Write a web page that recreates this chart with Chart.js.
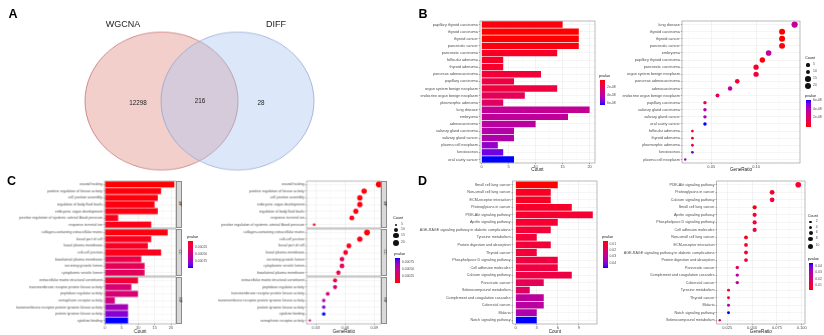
<!DOCTYPE html>
<html>
<head>
<meta charset="utf-8">
<script src="https://cdn.jsdelivr.net/npm/chart.js@4.4.1/dist/chart.umd.min.js"></script>
<style>
  body { margin: 0; width: 824px; height: 335px; background: #fff; position: relative; overflow: hidden;
         font-family: "Liberation Sans", Arial, sans-serif; }
  canvas { position: absolute; }
  .txt { position: absolute; white-space: nowrap; line-height: 1; transform: translate(-50%, -50%); color: #1a1a1a; }
  .ltxt { position: absolute; white-space: nowrap; line-height: 1; transform: translateY(-50%); color: #4D4D4D; }
  .panel { font-weight: bold; font-size: 12.5px; color: #000; }
</style>
</head>
<body>
<script>
// ---------- data ----------
const vennSets = ["WGCNA", "DIFF"];
const vennCounts = [12298, 216, 28]; // WGCNA only, both, DIFF only

// B: disease enrichment
const bCats = ["papillary thyroid carcinoma", "thyroid carcinoma", "thyroid cancer", "pancreatic cancer",
  "pancreatic carcinoma", "follicular adenoma", "thyroid adenoma", "pancreas adenocarcinoma",
  "papillary carcinoma", "organ system benign neoplasm", "endocrine organ benign neoplasm",
  "pleomorphic adenoma", "lung disease", "embryoma", "adenocarcinoma", "salivary gland carcinoma",
  "salivary gland cancer", "plasma cell neoplasm", "keratoconus", "oral cavity cancer"];
const bCount = [15, 18, 18, 18, 14, 4, 4, 11, 6, 14, 8, 4, 20, 16, 10, 6, 6, 3, 4, 6];
const bPvalue = [1.24e-9, 5e-11, 5e-11, 1.86e-9, 4.96e-9, 6.2e-9, 6.2e-9, 9.3e-9, 1.24e-8, 1.12e-8,
  1.74e-8, 2.05e-8, 3.41e-8, 3.53e-8, 3.72e-8, 3.91e-8, 4.03e-8, 4.84e-8, 5.46e-8, 6.2e-8];
const bDotCats = ["lung disease", "thyroid carcinoma", "thyroid cancer", "pancreatic cancer", "embryoma",
  "papillary thyroid carcinoma", "pancreatic carcinoma", "organ system benign neoplasm",
  "pancreas adenocarcinoma", "adenocarcinoma", "endocrine organ benign neoplasm", "papillary carcinoma",
  "salivary gland carcinoma", "salivary gland cancer", "oral cavity cancer", "follicular adenoma",
  "thyroid adenoma", "pleomorphic adenoma", "keratoconus", "plasma cell neoplasm"];
const bDotRatio = [0.143, 0.129, 0.129, 0.129, 0.114, 0.107, 0.100, 0.100, 0.079, 0.071, 0.057,
  0.043, 0.043, 0.043, 0.043, 0.029, 0.029, 0.029, 0.029, 0.021];
const bPRange = [0, 6.2e-8];
const bPTicks = [2e-8, 4e-8, 6e-8];
const bPLabels = ["2e-08", "4e-08", "6e-08"];
const bCountLegend = [5, 10, 15, 20];

// C: GO enrichment
const goGroups = ["BP", "CC", "MF"];
const cBPCats = ["wound healing", "positive regulation of kinase activity", "cell junction assembly",
  "regulation of body fluid levels", "embryonic organ development",
  "positive regulation of systemic arterial blood pressure", "response to metal ion"];
const cBPCount = [21, 17, 16, 15, 16, 4, 14];
const cBPPvalue = [0.00002, 0.000038, 0.000038, 0.000048, 0.000048, 0.000066, 0.000066];
const cCCCats = ["collagen-containing extracellular matrix", "basal part of cell", "basal plasma membrane",
  "cell-cell junction", "basolateral plasma membrane", "secretory granule lumen", "cytoplasmic vesicle lumen"];
const cCCCount = [19, 14, 13, 17, 11, 12, 12];
const cCCPvalue = [0.000038, 0.000075, 0.000094, 0.000066, 0.000222, 0.000278, 0.000296];
const cMFCats = ["extracellular matrix structural constituent", "transmembrane receptor protein kinase activity",
  "peptidase regulator activity", "semaphorin receptor activity",
  "transmembrane receptor protein tyrosine kinase activity", "protein tyrosine kinase activity", "cytokine binding"];
const cMFCount = [10, 8, 10, 3, 7, 7, 7];
const cMFPvalue = [0.000158, 0.000388, 0.000388, 0.000434, 0.000664, 0.000774, 0.00094];

const cBPDotCats = ["wound healing", "positive regulation of kinase activity", "cell junction assembly",
  "embryonic organ development", "regulation of body fluid levels", "response to metal ion",
  "positive regulation of systemic arterial blood pressure"];
const cBPDotRatio = [0.0947, 0.0795, 0.0751, 0.0751, 0.0710, 0.0669, 0.0283];
const cCCDotCats = ["collagen-containing extracellular matrix", "cell-cell junction", "basal part of cell",
  "basal plasma membrane", "secretory granule lumen", "cytoplasmic vesicle lumen", "basolateral plasma membrane"];
const cCCDotRatio = [0.0825, 0.0751, 0.0639, 0.0605, 0.0568, 0.0568, 0.0531];
const cMFDotCats = ["extracellular matrix structural constituent", "peptidase regulator activity",
  "transmembrane receptor protein kinase activity", "transmembrane receptor protein tyrosine kinase activity",
  "protein tyrosine kinase activity", "cytokine binding", "semaphorin receptor activity"];
const cMFDotRatio = [0.0497, 0.0497, 0.0422, 0.0381, 0.0381, 0.0381, 0.0239];
const cPRange = [0.00002, 0.00094];
const cPTicks = [0.00025, 0.0005, 0.00075];
const cPLabels = ["0.00025", "0.00050", "0.00075"];
const cCountLegend = [5, 10, 15, 20];

// D: KEGG enrichment
const dCats = ["Small cell lung cancer", "Non-small cell lung cancer", "ECM-receptor interaction",
  "Proteoglycans in cancer", "PI3K-Akt signaling pathway", "Apelin signaling pathway",
  "AGE-RAGE signaling pathway in diabetic complications", "Tyrosine metabolism",
  "Protein digestion and absorption", "Thyroid cancer", "Phospholipase D signaling pathway",
  "Cell adhesion molecules", "Calcium signaling pathway", "Pancreatic cancer", "Selenocompound metabolism",
  "Complement and coagulation cascades", "Colorectal cancer", "Malaria", "Notch signaling pathway"];
const dCount = [6, 5, 5, 8, 11, 6, 5, 3, 5, 3, 6, 6, 8, 4, 2, 4, 4, 3, 3];
const dPvalue = [0.00355, 0.00703, 0.00703, 0.0079, 0.00876, 0.00876, 0.01007, 0.01007, 0.01007, 0.01007,
  0.01137, 0.01137, 0.01224, 0.01572, 0.01745, 0.02875, 0.02962, 0.03179, 0.047];
const dDotCats = ["PI3K-Akt signaling pathway", "Proteoglycans in cancer", "Calcium signaling pathway",
  "Small cell lung cancer", "Apelin signaling pathway", "Phospholipase D signaling pathway",
  "Cell adhesion molecules", "Non-small cell lung cancer", "ECM-receptor interaction",
  "AGE-RAGE signaling pathway in diabetic complications", "Protein digestion and absorption",
  "Pancreatic cancer", "Complement and coagulation cascades", "Colorectal cancer", "Tyrosine metabolism",
  "Thyroid cancer", "Malaria", "Notch signaling pathway", "Selenocompound metabolism"];
const dDotRatio = [0.0965, 0.0702, 0.0702, 0.0526, 0.0526, 0.0526, 0.0526, 0.0439, 0.0439, 0.0439, 0.0439,
  0.0351, 0.0351, 0.0351, 0.0263, 0.0263, 0.0263, 0.0263, 0.0175];
const dPRange = [0.00355, 0.047];
const dPTicks = [0.01, 0.02, 0.03, 0.04];
const dPLabels = ["0.01", "0.02", "0.03", "0.04"];
const dCountLegend = [2, 4, 6, 8, 10];

// ---------- helpers ----------
const FONT = "'Liberation Sans', Arial, sans-serif";
Chart.defaults.font.family = FONT;
Chart.defaults.color = "#4D4D4D";

// red -> blue in Lab space, like ggplot's gradient
function srgbToLin(c) { c /= 255; return c <= 0.04045 ? c / 12.92 : Math.pow((c + 0.055) / 1.055, 2.4); }
function linToSrgb(c) {
  const v = c <= 0.0031308 ? 12.92 * c : 1.055 * Math.pow(Math.max(c, 0), 1 / 2.4) - 0.055;
  return Math.round(Math.max(0, Math.min(1, v)) * 255);
}
function toLab(rgb) {
  const [R, G, B] = rgb.map(srgbToLin);
  const X = (0.4124 * R + 0.3576 * G + 0.1805 * B) / 0.95047;
  const Y = 0.2126 * R + 0.7152 * G + 0.0722 * B;
  const Z = (0.0193 * R + 0.1192 * G + 0.9505 * B) / 1.08883;
  const f = t => t > 0.008856 ? Math.cbrt(t) : 7.787 * t + 16 / 116;
  return [116 * f(Y) - 16, 500 * (f(X) - f(Y)), 200 * (f(Y) - f(Z))];
}
function fromLab([L, a, b]) {
  const fy = (L + 16) / 116, fx = fy + a / 500, fz = fy - b / 200;
  const inv = t => t * t * t > 0.008856 ? t * t * t : (t - 16 / 116) / 7.787;
  const X = inv(fx) * 0.95047, Y = inv(fy), Z = inv(fz) * 1.08883;
  return [3.2406 * X - 1.5372 * Y - 0.4986 * Z, -0.9689 * X + 1.8758 * Y + 0.0415 * Z,
    0.0557 * X - 0.2040 * Y + 1.0570 * Z].map(linToSrgb);
}
const LAB_LO = toLab([255, 0, 0]);
const LAB_HI = toLab([0, 0, 255]);
function pColor(p, lo, hi) {
  const t = Math.max(0, Math.min(1, (p - lo) / (hi - lo)));
  const [r, g, b] = fromLab(LAB_LO.map((v, i) => v + (LAB_HI[i] - v) * t));
  return `rgb(${r},${g},${b})`;
}

function addCanvas(left, top, w, h, parent) {
  const c = document.createElement("canvas");
  c.width = w; c.height = h;
  c.style.left = left + "px"; c.style.top = top + "px";
  c.style.width = w + "px"; c.style.height = h + "px";
  (parent || document.body).appendChild(c);
  return c;
}

function addText(text, x, y, css, cls) {
  const d = document.createElement("div");
  d.className = cls || "txt";
  d.textContent = text;
  d.style.left = x + "px"; d.style.top = y + "px";
  Object.assign(d.style, css || {});
  document.body.appendChild(d);
  return d;
}

// full box round the plotting panel
const panelBorder = {
  id: "panelBorder",
  afterDraw(chart) {
    const a = chart.chartArea, ctx = chart.ctx;
    ctx.save();
    ctx.strokeStyle = "#8C8C8C";
    ctx.lineWidth = 0.6;
    ctx.strokeRect(a.left, a.top, a.right - a.left, a.bottom - a.top);
    ctx.restore();
  }
};

function makeChart(type, s, labels, dataset) {
  const pad = 5, padR = 8, xh = s.xh || 0;
  const canvas = addCanvas(s.plotL - s.yw, s.plotT - pad, s.yw + s.plotW + padR, pad + s.plotH + (xh || pad));
  const isMajor = v => s.major.some(m => Math.abs(m - v) < 1e-9);
  const allTicks = s.major.concat(s.minor).filter(v => v >= s.xMin && v <= s.xMax).sort((a, b) => a - b);
  return new Chart(canvas, {
    type: type,
    data: { labels: labels, datasets: [dataset] },
    plugins: [panelBorder],
    options: {
      responsive: false,
      animation: false,
      indexAxis: type === "bar" ? "y" : "x",
      layout: { autoPadding: false, padding: { top: pad, right: padR, bottom: xh ? 0 : pad, left: 0 } },
      plugins: { legend: { display: false }, tooltip: { enabled: false } },
      scales: {
        y: {
          type: "category",
          labels: labels,
          offset: true,
          grid: { color: "#EBEBEB", lineWidth: 0.5, offset: false, tickLength: 1.2, tickColor: "#555" },
          border: { display: false },
          ticks: { autoSkip: false, font: { size: s.fontY }, padding: 1, color: "#4D4D4D" },
          afterFit: sc => { sc.width = s.yw; }
        },
        x: {
          type: "linear",
          min: s.xMin,
          max: s.xMax,
          afterBuildTicks: sc => { sc.ticks = allTicks.map(v => ({ value: v })); },
          grid: {
            color: c => (c.tick && isMajor(c.tick.value)) ? "#E6E6E6" : "#F3F3F3",
            lineWidth: c => (c.tick && isMajor(c.tick.value)) ? 0.5 : 0.3,
            drawTicks: !!xh,
            tickLength: 1.2,
            tickColor: c => (c.tick && isMajor(c.tick.value)) ? "#555" : "rgba(0,0,0,0)"
          },
          border: { display: false },
          ticks: {
            display: !!xh, autoSkip: false, maxRotation: 0, font: { size: 4 }, padding: 0.5,
            color: "#4D4D4D", callback: v => isMajor(v) ? s.fmt(v) : ""
          },
          title: { display: !!xh, text: s.xTitle, font: { size: 4.6 }, padding: 0, color: "#1a1a1a" },
          afterFit: sc => { sc.height = xh; }
        }
      }
    }
  });
}

function barSet(counts, pvals, range) {
  return {
    data: counts,
    backgroundColor: pvals.map(p => pColor(p, range[0], range[1])),
    borderWidth: 0,
    barPercentage: 0.9,
    categoryPercentage: 1
  };
}

function dotSet(cats, ratio, srcCats, srcCount, srcP, range, k) {
  return {
    data: cats.map((c, i) => ({ x: ratio[i], y: c })),
    pointRadius: cats.map(c => k * Math.sqrt(srcCount[srcCats.indexOf(c)])),
    pointHoverRadius: cats.map(c => k * Math.sqrt(srcCount[srcCats.indexOf(c)])),
    pointBackgroundColor: cats.map(c => pColor(srcP[srcCats.indexOf(c)], range[0], range[1])),
    pointBorderWidth: 0,
    showLine: false,
    clip: 4
  };
}

function gradientLegend(x, y, w, h, range, ticks, labels, blueTop) {
  const stops = [];
  for (let i = 0; i <= 10; i++) {
    const t = i / 10;
    const p = range[0] + (blueTop ? 1 - t : t) * (range[1] - range[0]);
    stops.push(pColor(p, range[0], range[1]) + " " + (t * 100) + "%");
  }
  const bar = document.createElement("div");
  Object.assign(bar.style, { position: "absolute", left: x + "px", top: y + "px", width: w + "px",
    height: h + "px", background: "linear-gradient(to bottom, " + stops.join(",") + ")" });
  document.body.appendChild(bar);
  addText("pvalue", x - 1, y - 3, { fontSize: "3.8px", color: "#1a1a1a" }, "ltxt");
  ticks.forEach((v, i) => {
    const f = (v - range[0]) / (range[1] - range[0]);
    const yy = y + (blueTop ? 1 - f : f) * h;
    addText(labels[i], x + w + 2, yy, { fontSize: "3.4px" }, "ltxt");
  });
}

function sizeLegend(x, ys, values, k, titleY) {
  addText("Count", x - 3, titleY, { fontSize: "3.8px", color: "#1a1a1a" }, "ltxt");
  values.forEach((v, i) => {
    const r = k * Math.sqrt(v);
    const d = document.createElement("div");
    Object.assign(d.style, { position: "absolute", left: (x - r) + "px", top: (ys[i] - r) + "px",
      width: 2 * r + "px", height: 2 * r + "px", borderRadius: "50%", background: "#111" });
    document.body.appendChild(d);
    addText(String(v), x + 5, ys[i], { fontSize: "3.4px" }, "ltxt");
  });
}

function strip(x, y, w, h, text) {
  const d = document.createElement("div");
  Object.assign(d.style, { position: "absolute", left: x + "px", top: y + "px", width: w + "px",
    height: h + "px", background: "#D9D9D9", border: "0.6px solid #8C8C8C", boxSizing: "border-box" });
  document.body.appendChild(d);
  addText(text, x + w / 2, y + h / 2, { fontSize: "3.6px", color: "#1a1a1a",
    transform: "translate(-50%,-50%) rotate(90deg)" });
}

// ---------- A: Venn ----------
const vennWrap = document.createElement("div");
Object.assign(vennWrap.style, { position: "absolute", left: "0px", top: "0px", width: "412px", height: "224px",
  transform: "scaleY(0.902)", transformOrigin: "0 0" });
document.body.appendChild(vennWrap);
const vennCanvas = addCanvas(0, 0, 412, 224, vennWrap);
new Chart(vennCanvas, {
  type: "bubble",
  data: {
    datasets: [
      { label: vennSets[0], data: [{ x: 0, y: 0 }], radius: 76.5, order: 2, clip: false,
        backgroundColor: "rgba(226,135,125,0.4)", borderColor: "rgba(185,105,105,0.9)", borderWidth: 0.8 },
      { label: vennSets[1], data: [{ x: 1, y: 0 }], radius: 76.5, order: 1, clip: false,
        backgroundColor: "rgba(168,198,240,0.4)", borderColor: "rgba(140,160,205,0.9)", borderWidth: 0.8 }
    ]
  },
  options: {
    responsive: false, animation: false,
    layout: { autoPadding: false, padding: 0 },
    plugins: { legend: { display: false }, tooltip: { enabled: false } },
    scales: { x: { display: false, min: -2.125, max: 3.296 }, y: { display: false, min: -1, max: 1 } }
  }
});
addText(vennSets[0], 123, 24, { fontSize: "9px", color: "#222" });
addText(vennSets[1], 276, 24, { fontSize: "9px", color: "#222" });
addText(String(vennCounts[0]), 138, 103, { fontSize: "6.3px", color: "#222" });
addText(String(vennCounts[1]), 200, 101, { fontSize: "6.3px", color: "#222" });
addText(String(vennCounts[2]), 261, 103, { fontSize: "6.3px", color: "#222" });

// ---------- B ----------
makeChart("bar", { plotL: 480, plotT: 21, plotW: 115, plotH: 142, yw: 68, xh: 9, fontY: 3.8,
  xMin: -0.3, xMax: 21, major: [0, 5, 10, 15, 20], minor: [2.5, 7.5, 12.5, 17.5],
  fmt: v => String(v), xTitle: "Count" }, bCats, barSet(bCount, bPvalue, bPRange));
gradientLegend(600, 80, 5, 25, bPRange, bPTicks, bPLabels, false);

makeChart("scatter", { plotL: 682, plotT: 21, plotW: 118, plotH: 142, yw: 64, xh: 9, fontY: 3.8,
  xMin: 0.0174, xMax: 0.149, major: [0.05, 0.10], minor: [0.025, 0.075, 0.125],
  fmt: v => v.toFixed(2), xTitle: "GeneRatio" }, bDotCats,
  dotSet(bDotCats, bDotRatio, bCats, bCount, bPvalue, bPRange, 0.7));
sizeLegend(808, [65, 72, 79, 86], bCountLegend, 0.7, 59);
gradientLegend(806, 100, 5, 27, bPRange, bPTicks, bPLabels, true);

// ---------- C ----------
const cBars = [
  [cBPCats, cBPCount, cBPPvalue, cBPDotCats, cBPDotRatio],
  [cCCCats, cCCCount, cCCPvalue, cCCDotCats, cCCDotRatio],
  [cMFCats, cMFCount, cMFPvalue, cMFDotCats, cMFDotRatio]
];
const facetTops = [181, 229, 277];
const facetH = 46.5;
cBars.forEach(([cats, count, pv, dotCats, ratio], k) => {
  const last = k === cBars.length - 1;
  makeChart("bar", { plotL: 104, plotT: facetTops[k], plotW: 71.7, plotH: facetH, yw: 104, xh: last ? 10 : 0,
    fontY: 3.5, xMin: -0.1, xMax: 21.5, major: [0, 5, 10, 15, 20], minor: [2.5, 7.5, 12.5, 17.5],
    fmt: v => String(v), xTitle: "Count" }, cats, barSet(count, pv, cPRange));
  strip(176, facetTops[k], 6, facetH, goGroups[k]);

  makeChart("scatter", { plotL: 306, plotT: facetTops[k], plotW: 74.7, plotH: facetH, yw: 101, xh: last ? 10 : 0,
    fontY: 3.5, xMin: 0.0205, xMax: 0.0968, major: [0.03, 0.06, 0.09], minor: [0.045, 0.075],
    fmt: v => v.toFixed(2), xTitle: "GeneRatio" }, dotCats,
    dotSet(dotCats, ratio, cats, count, pv, cPRange, 0.66));
  strip(381, facetTops[k], 6, facetH, goGroups[k]);
});
gradientLegend(188, 241, 5, 27, cPRange, cPTicks, cPLabels, false);
sizeLegend(396, [225, 230.3, 235.7, 243], cCountLegend, 0.66, 219);
gradientLegend(395, 258, 5, 25, cPRange, cPTicks, cPLabels, true);

// ---------- D ----------
makeChart("bar", { plotL: 512.7, plotT: 181, plotW: 84.6, plotH: 143, yw: 100.7, xh: 10, fontY: 3.7,
  xMin: -0.43, xMax: 11.6, major: [0, 3, 6, 9], minor: [1.5, 4.5, 7.5, 10.5],
  fmt: v => String(v), xTitle: "Count" }, dCats, barSet(dCount, dPvalue, dPRange));
gradientLegend(603, 241, 4.5, 27, dPRange, dPTicks, dPLabels, false);

makeChart("scatter", { plotL: 716.7, plotT: 181, plotW: 88.6, plotH: 143, yw: 101.7, xh: 10, fontY: 3.7,
  xMin: 0.0144, xMax: 0.1033, major: [0.025, 0.05, 0.075, 0.1], minor: [0.0375, 0.0625, 0.0875],
  fmt: v => v.toFixed(3), xTitle: "GeneRatio" }, dDotCats,
  dotSet(dDotCats, dDotRatio, dCats, dCount, dPvalue, dPRange, 0.85));
sizeLegend(810.7, [222.3, 227.7, 233.3, 239, 246.3], dCountLegend, 0.85, 217);
gradientLegend(808.7, 262.7, 4.6, 27.3, dPRange, dPTicks, dPLabels, true);

// ---------- panel letters ----------
addText("A", 13, 13.5, {}, "txt panel");
addText("B", 423, 14, {}, "txt panel");
addText("C", 11.5, 180.5, {}, "txt panel");
addText("D", 422.5, 180.5, {}, "txt panel");
</script>
</body>
</html>
